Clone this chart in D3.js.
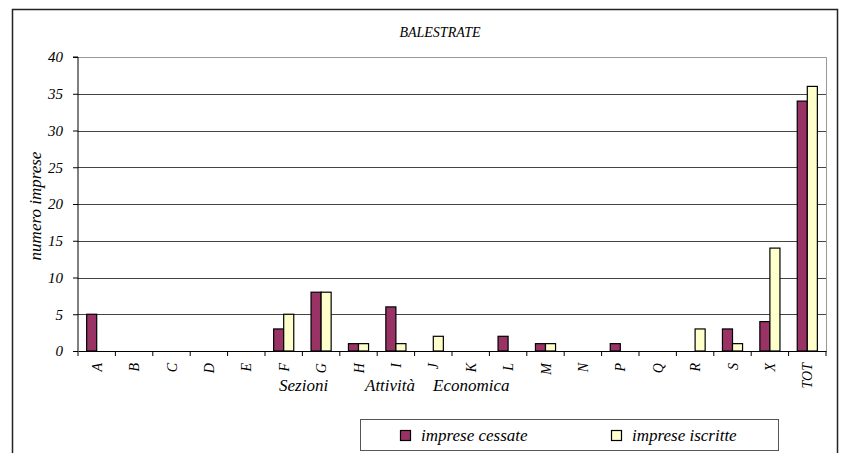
<!DOCTYPE html>
<html>
<head>
<meta charset="utf-8">
<script src="https://cdn.jsdelivr.net/npm/d3@7"></script>
<style>
  body { margin: 0; background: #fff; }
  svg text { font-family: "Liberation Serif", "Times New Roman", "DejaVu Serif", serif; font-style: italic; fill: #000; }
</style>
</head>
<body>
<div id="chart"></div>
<script>
const categories = ["A", "B", "C", "D", "E", "F", "G", "H", "I", "J", "K", "L", "M", "N", "P", "Q", "R", "S", "X", "TOT"]
const cessate  = [5, 0, 0, 0, 0, 3, 8, 1, 6, 0, 0, 2, 1, 0, 1, 0, 0, 3, 4, 34]
const iscritte = [0, 0, 0, 0, 0, 5, 8, 1, 1, 2, 0, 0, 1, 0, 0, 0, 3, 1, 14, 36]
const seriesNames = ["imprese cessate", "imprese iscritte"]
const seriesColors = ["#993366", "#FFFFCC"]
const yTicks = [0, 5, 10, 15, 20, 25, 30, 35, 40]
const xTitleWords = ["Sezioni", "Attività", "Economica"]

const width = 841, height = 453
const plot = { left: 78, right: 826, top: 57, bottom: 351 }
const serif = '"Liberation Serif", "Times New Roman", serif'

const svg = d3.select("#chart").append("svg")
  .attr("width", width)
  .attr("height", height)
  .attr("font-family", serif)

// outer frame
svg.append("rect")
  .attr("x", 12.5).attr("y", 9.5)
  .attr("width", 825).attr("height", 460)
  .attr("fill", "none").attr("stroke", "#222").attr("stroke-width", 1.5)

const x = d3.scaleBand()
  .domain(categories)
  .range([plot.left, plot.right])

const inner = d3.scaleBand()
  .domain([0, 1])
  .range([0, x.bandwidth()])
  .paddingOuter(0.86)

const y = d3.scaleLinear()
  .domain([0, 40])
  .range([plot.bottom, plot.top])

// gridlines
svg.append("g")
  .selectAll("line")
  .data(yTicks.filter(d => d > 0 && d < 40))
  .join("line")
    .attr("x1", plot.left).attr("x2", plot.right)
    .attr("y1", d => Math.round(y(d)) + 0.5).attr("y2", d => Math.round(y(d)) + 0.5)
    .attr("stroke", "#444")

// plot border (top/right)
svg.append("path")
  .attr("d", `M${plot.left},${plot.top + 0.5}H${plot.right + 0.5}V${plot.bottom}`)
  .attr("fill", "none")
  .attr("stroke", "#999")

// bars
const rows = categories.map((c, i) => ({ cat: c, vals: [cessate[i], iscritte[i]] }))
const groups = svg.append("g")
  .selectAll("g")
  .data(rows)
  .join("g")
    .attr("transform", d => `translate(${x(d.cat)},0)`)

groups.selectAll("rect")
  .data(d => d.vals.map((v, k) => ({ v, k })).filter(e => e.v > 0))
  .join("rect")
    .attr("x", d => inner(d.k))
    .attr("y", d => y(d.v))
    .attr("width", inner.bandwidth())
    .attr("height", d => y(0) - y(d.v))
    .attr("fill", d => seriesColors[d.k])
    .attr("stroke", "#000")
    .attr("stroke-width", 1.2)

// y axis
const yAxis = svg.append("g")
  .attr("transform", `translate(${plot.left},0)`)
  .call(d3.axisLeft(y).tickValues(yTicks).tickSize(5).tickPadding(10))
yAxis.attr("font-family", serif)
yAxis.select(".domain").attr("stroke", "#000").attr("d", `M-5,${y(40)}H0V${y(0)}`)
yAxis.selectAll("line").attr("stroke", "#000")
yAxis.selectAll("text")
  .style("font-size", "15px")
  .attr("fill", "#000")

// x axis
const xAxis = svg.append("g")
  .attr("transform", `translate(0,${plot.bottom})`)
  .call(d3.axisBottom(x).tickSize(0).tickFormat(""))
xAxis.select(".domain").attr("stroke", "#000")

svg.append("g")
  .selectAll("line")
  .data(d3.range(categories.length + 1))
  .join("line")
    .attr("x1", i => plot.left + i * x.step())
    .attr("x2", i => plot.left + i * x.step())
    .attr("y1", plot.bottom).attr("y2", plot.bottom + 5)
    .attr("stroke", "#000")

svg.append("g")
  .selectAll("text")
  .data(categories)
  .join("text")
    .attr("transform", d => `translate(${x(d) + x.bandwidth() / 2 + 5},${plot.bottom + 12}) rotate(-90)`)
    .attr("text-anchor", "end")
    .style("font-size", "14px")
    .text(d => d)

// titles
svg.append("text")
  .attr("x", 440).attr("y", 37)
  .attr("text-anchor", "middle")
  .style("font-size", "14px")
  .text("BALESTRATE")

svg.append("text")
  .attr("transform", "translate(41,206) rotate(-90)")
  .attr("text-anchor", "middle")
  .style("font-size", "17px")
  .text("numero imprese")

const xTitle = svg.append("text")
  .attr("y", 391)
  .style("font-size", "17px")
xTitle.selectAll("tspan")
  .data(xTitleWords)
  .join("tspan")
    .attr("x", (d, i) => [279, 365, 433][i])
    .text(d => d)

// legend
const legend = svg.append("g")
legend.append("rect")
  .attr("x", 360.5).attr("y", 419.5)
  .attr("width", 418).attr("height", 31)
  .attr("fill", "#fff").attr("stroke", "#555")

const legendX = [400, 611]
seriesNames.forEach((name, k) => {
  legend.append("rect")
    .attr("x", legendX[k] + 0.5).attr("y", 430.5)
    .attr("width", 10).attr("height", 10)
    .attr("fill", seriesColors[k]).attr("stroke", "#000").attr("stroke-width", 1.2)
  legend.append("text")
    .attr("x", legendX[k] + 21).attr("y", 441)
    .style("font-size", "17px")
    .text(name)
})
</script>
</body>
</html>
